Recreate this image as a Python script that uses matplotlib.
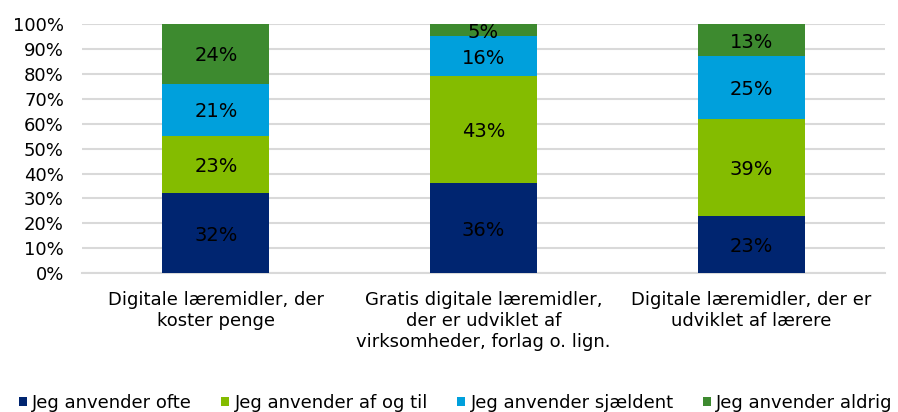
import matplotlib.pyplot as plt
import numpy as np

plt.rcParams['font.family'] = ['DejaVu Sans']

categories = ["Digitale læremidler, der\nkoster penge",
              "Gratis digitale læremidler,\nder er udviklet af\nvirksomheder, forlag o. lign.",
              "Digitale læremidler, der er\nudviklet af lærere"]
series = ["Jeg anvender ofte", "Jeg anvender af og til",
          "Jeg anvender sjældent", "Jeg anvender aldrig"]
ofte = [32, 36, 23]
af_og_til = [23, 43, 39]
sjaeldent = [21, 16, 25]
aldrig = [24, 5, 13]
colors = ['#002570', '#84bc00', '#00a0dc', '#3d8a2f']

fig = plt.figure(figsize=(8.98, 4.12), dpi=100)
ax = fig.add_axes([0.0913, 0.337, 0.8942, 0.6047])

x = np.arange(len(categories))
bottom = np.zeros(len(categories))
for name, vals, col in zip(series, [ofte, af_og_til, sjaeldent, aldrig], colors):
    vals = np.array(vals, dtype=float)
    ax.bar(x, vals, 0.4, bottom=bottom, color=col, label=name, zorder=3)
    for xi, b, v in zip(x, bottom, vals):
        ax.text(xi, b + v / 2 - 0.8, f"{int(v)}%", ha='center', va='center',
                fontsize=14, color='black', zorder=4)
    bottom += vals

ax.set_xlim(-0.5, 2.5)
ax.set_ylim(0, 100)
ax.set_yticks(np.arange(0, 101, 10))
ax.set_yticklabels([f"{t}%" for t in range(0, 101, 10)], fontsize=13)
ax.yaxis.grid(True, color='#d9d9d9', linewidth=1.5, zorder=0)
ax.set_xticks(x)
ax.set_xticklabels(categories, fontsize=13, linespacing=1.2)
ax.tick_params(length=0)
ax.tick_params(axis='y', pad=13)
ax.tick_params(axis='x', pad=13)
for s in ['top', 'right', 'left']:
    ax.spines[s].set_visible(False)
ax.spines['bottom'].set_color('#d9d9d9')
ax.spines['bottom'].set_linewidth(1.5)

fig.legend(loc='center left', bbox_to_anchor=(0.021, 0.022), ncol=4, frameon=False,
           fontsize=13, handlelength=0.45, handleheight=0.45, handletextpad=0.3,
           columnspacing=1.6, borderaxespad=0, borderpad=0)

fig.savefig('out.png', dpi=100)
